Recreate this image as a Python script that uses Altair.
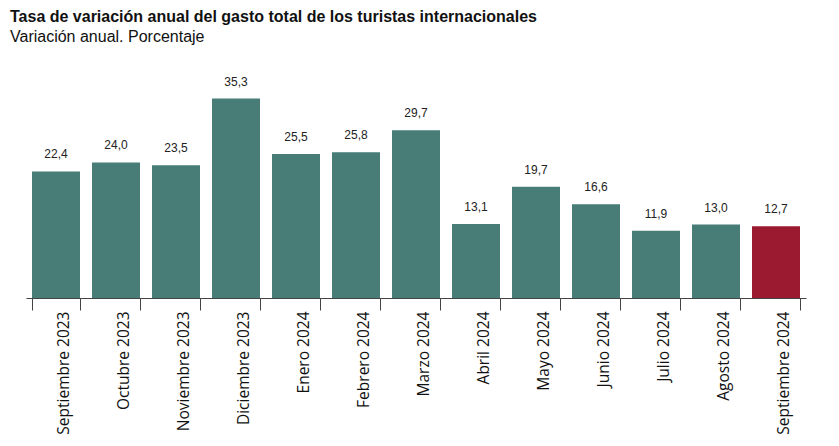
import altair as alt
import pandas as pd

meses = ["Septiembre 2023", "Octubre 2023", "Noviembre 2023", "Diciembre 2023",
         "Enero 2024", "Febrero 2024", "Marzo 2024", "Abril 2024", "Mayo 2024",
         "Junio 2024", "Julio 2024", "Agosto 2024", "Septiembre 2024"]
valores = [22.4, 24.0, 23.5, 35.3, 25.5, 25.8, 29.7, 13.1, 19.7, 16.6, 11.9, 13.0, 12.7]
destacado = [False] * 12 + [True]

df = pd.DataFrame({"mes": meses, "valor": valores, "destacado": destacado})
df["etiqueta"] = [f"{v:.1f}".replace(".", ",") for v in valores]

base = alt.Chart(df).encode(
    x=alt.X("mes:N", sort=meses, title=None,
            scale=alt.Scale(paddingInner=0.2, paddingOuter=0.1),
            axis=alt.Axis(labelAngle=-90, labelFont="Open Sans", labelFontSize=15.5,
                          labelColor="#111111", labelOffset=7, labelPadding=1,
                          tickSize=12, tickColor="#444444", domainColor="#444444",
                          tickBand="extent", labelLimit=200)),
)

bars = base.mark_bar().encode(
    y=alt.Y("valor:Q", scale=alt.Scale(domain=[0, 40]), axis=None),
    color=alt.Color("destacado:N", scale=alt.Scale(domain=[False, True],
                    range=["#477d76", "#9b1a30"]), legend=None),
)

labels = base.mark_text(dy=-10, baseline="bottom", font="Arial", fontSize=12,
                        color="#222222").encode(
    y=alt.Y("valor:Q", scale=alt.Scale(domain=[0, 40])),
    text="etiqueta:N",
)

chart = (bars + labels).properties(
    width=780, height=226,
    autosize=alt.AutoSizeParams(type="none"),
    padding={"left": 18, "top": 64, "right": 25, "bottom": 140},
    title=alt.TitleParams(
        "Tasa de variación anual del gasto total de los turistas internacionales",
        subtitle="Variación anual. Porcentaje",
        anchor="start", dx=-9, font="Arial", fontSize=16, fontWeight="bold",
        color="#111111", subtitleFont="Arial", subtitleFontSize=16,
        subtitleColor="#111111", offset=27, subtitlePadding=4),
).configure_view(stroke=None)

chart.save("out.html", embed_options={"renderer": "svg", "actions": False})
